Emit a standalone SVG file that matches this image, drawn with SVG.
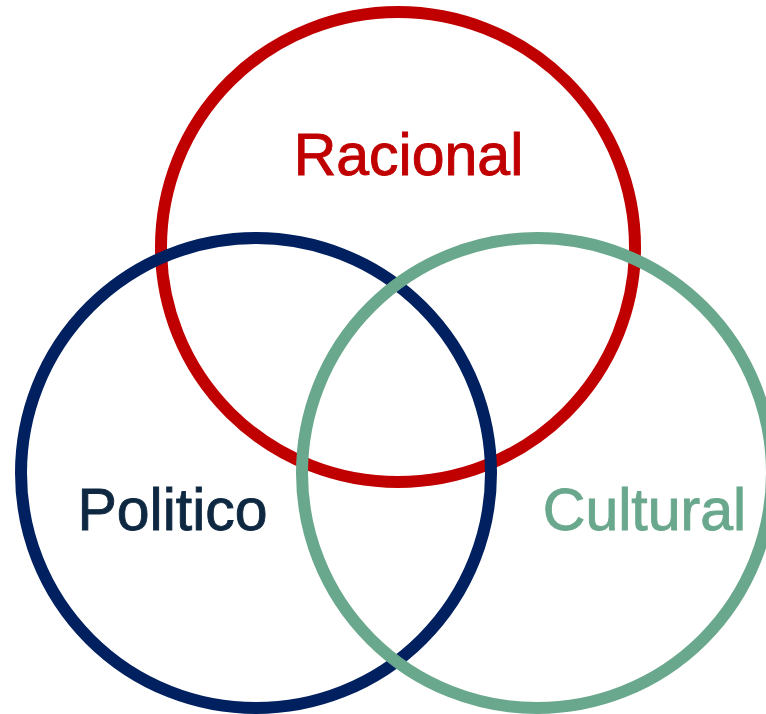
<svg xmlns="http://www.w3.org/2000/svg" width="766" height="714" viewBox="0 0 766 714">
<style>
.ring{fill:none;stroke-width:12}
.lbl{font-family:"Liberation Sans",Arial,sans-serif;font-size:59px;text-anchor:middle;stroke-width:0.9}
</style>
<rect width="766" height="714" fill="#fff"/>
<g id="racional">
<ellipse class="ring" cx="398" cy="247" rx="237" ry="235" stroke="#C00000"/>
<text class="lbl" x="408.5" y="175" fill="#C00000" stroke="#C00000">Racional</text>
</g>
<g id="politico">
<circle class="ring" cx="256" cy="473" r="235" stroke="#002060"/>
<text class="lbl" x="172.5" y="530" fill="#0E2841" stroke="#0E2841">Politico</text>
</g>
<g id="cultural">
<circle class="ring" cx="537" cy="473" r="235" stroke="#6AA88D"/>
<text class="lbl" x="644.5" y="530" fill="#6AA88D" stroke="#6AA88D">Cultural</text>
</g>
<g id="connectors"/>
</svg>
